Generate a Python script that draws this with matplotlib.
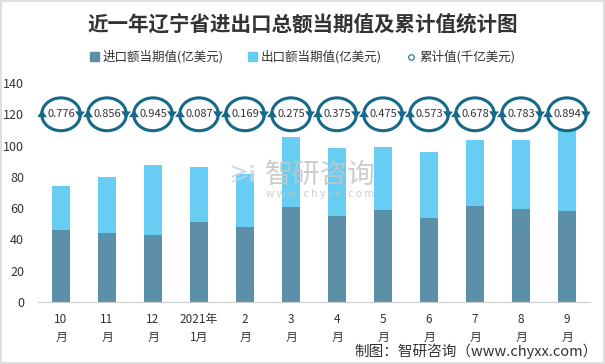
import matplotlib.pyplot as plt
import numpy as np
from matplotlib.patches import Arc, Ellipse, FancyArrowPatch, Rectangle
from matplotlib.lines import Line2D

plt.rcParams['font.family'] = ['Noto Sans CJK SC', 'DejaVu Sans']

# data
months = ['10\n月', '11\n月', '12\n月', '2021年\n1月', '2\n月', '3\n月', '4\n月',
          '5\n月', '6\n月', '7\n月', '8\n月', '9\n月']
imports = [46.1, 44.2, 42.9, 51.2, 48.0, 60.8, 55.0, 58.9, 53.8, 61.5, 59.5, 58.3]
totals = [74.3, 80.0, 87.7, 86.4, 82.0, 105.6, 98.6, 99.2, 96.0, 103.7, 103.7, 110.0]
cumulative = [0.776, 0.856, 0.945, 0.087, 0.169, 0.275, 0.375, 0.475, 0.573, 0.678, 0.783, 0.894]

exports = [t - i for t, i in zip(totals, imports)]

c_imp = '#5b90a8'
c_exp = '#67cdf3'
c_arrow = '#17698a'

fig = plt.figure(figsize=(6.05, 3.64), dpi=100)
fig.add_artist(Rectangle((0.002, 0.003), 0.996, 0.994, transform=fig.transFigure,
                         fill=False, edgecolor='#d9d9d9', linewidth=1.2))

ax = fig.add_axes([38 / 605, 62 / 364, 552 / 605, 219 / 364])
x = np.arange(len(months))
ax.bar(x, imports, width=0.4, color=c_imp, zorder=2)
ax.bar(x, exports, width=0.4, bottom=imports, color=c_exp, zorder=2)

ax.set_xlim(-0.5, len(months) - 0.5)
ax.set_ylim(0, 140)
ax.set_yticks(range(0, 141, 20))
ax.set_xticks(x)
ax.set_xticklabels(months, fontsize=8.5, color='#333333', linespacing=1.5)
ax.tick_params(axis='y', labelsize=9, colors='#333333', length=0, pad=10)
ax.tick_params(axis='x', length=0, pad=8)
for s in ['top', 'right', 'left']:
    ax.spines[s].set_visible(False)
ax.spines['bottom'].set_color('#d0d0d0')

# cumulative markers: circular arrows at y=120
yc = 120
w, h = 0.84, 21


def pt(i, ang):
    return (i + w / 2 * np.cos(np.radians(ang)), yc + h / 2 * np.sin(np.radians(ang)))


for i, v in enumerate(cumulative):
    ax.add_patch(Ellipse((i, yc), w, h, facecolor='white', edgecolor='none', zorder=3))
    ax.add_patch(Arc((i, yc), w, h, theta1=8, theta2=192, color=c_arrow, lw=2.2, zorder=4))
    ax.add_patch(Arc((i, yc), w, h, theta1=188, theta2=372, color=c_arrow, lw=2.2, zorder=4))
    for a0, a1 in [(10, -14), (190, 166)]:
        ax.add_patch(FancyArrowPatch(pt(i, a0), pt(i, a1), arrowstyle='-|>,head_length=0.55,head_width=0.4',
                                     mutation_scale=9, color=c_arrow, lw=0,
                                     shrinkA=0, shrinkB=0, zorder=5))
    ax.text(i, yc, f'{v:.3f}', ha='center', va='center', fontsize=8,
            color='#333333', zorder=6)

# watermark
fig.text(0.438, 0.52, '智研咨询', fontsize=20, color='#c4c4c4', ha='left', va='center',
         alpha=0.85, zorder=10)
fig.text(0.44, 0.468, 'w w w . c h y x x . c o m', fontsize=7.5, color='#c4c4c4',
         ha='left', va='center', alpha=0.85, zorder=10)
fig.text(0.378, 0.52, '≥i', fontsize=15, color='#c9d3e6', ha='left', va='center',
         fontweight='bold', alpha=0.85, zorder=10)

fig.text(0.5, 0.932, '近一年辽宁省进出口总额当期值及累计值统计图', ha='center', va='center',
         fontsize=14.8, fontweight='bold', color='#333333')

handles = [Rectangle((0, 0), 1, 1, color=c_imp),
           Rectangle((0, 0), 1, 1, color=c_exp),
           Line2D([], [], marker='o', linestyle='none', markersize=4,
                  markerfacecolor='white', markeredgecolor=c_arrow, markeredgewidth=0.8)]
fig.legend(handles, ['进口额当期值(亿美元)', '出口额当期值(亿美元)', '累计值(千亿美元)'],
           loc='center', bbox_to_anchor=(0.5, 0.843), ncol=3, frameon=False,
           fontsize=9, handlelength=0.7, handleheight=0.7, handletextpad=0.3,
           columnspacing=2.0, labelcolor='#333333')

fig.text(0.988, 0.035, '制图：智研咨询（www.chyxx.com）', ha='right', va='center',
         fontsize=10.5, color='#333333')

fig.savefig('out.png', dpi=100)
